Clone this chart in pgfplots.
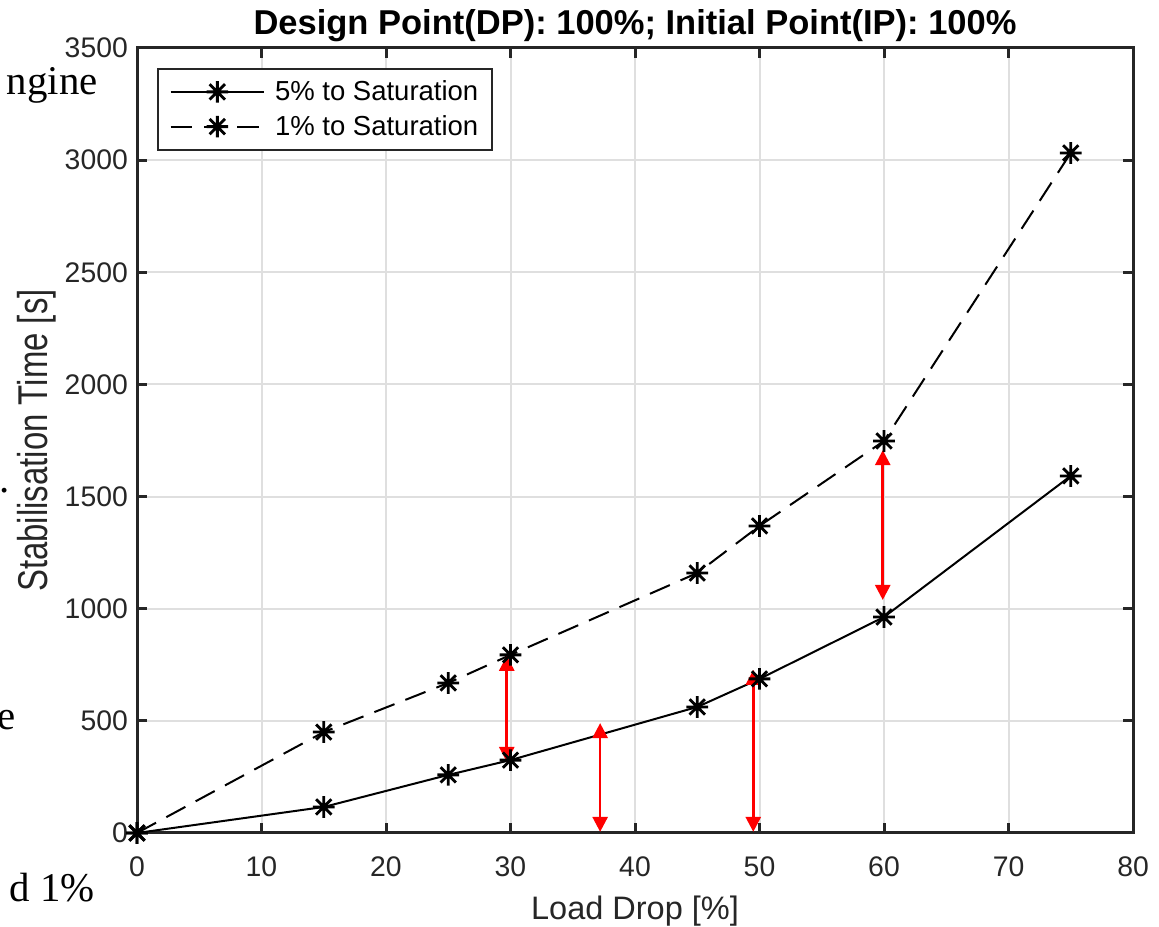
\documentclass[border=0pt]{standalone}
\usepackage{pgfplots}
\pgfplotsset{compat=1.18}
\usepackage{fontspec}
\setmainfont{Liberation Sans}
\newfontfamily\docserif{Liberation Serif}
\usetikzlibrary{arrows.meta}
\definecolor{axgray}{HTML}{262626}
\definecolor{gridgray}{HTML}{DFDFDF}

% MATLAB-style '*' marker: plus and cross overlaid
\pgfdeclareplotmark{mstar}{%
  \pgfpathmoveto{\pgfqpoint{-\pgfplotmarksize}{0pt}}\pgfpathlineto{\pgfqpoint{\pgfplotmarksize}{0pt}}%
  \pgfpathmoveto{\pgfqpoint{0pt}{-\pgfplotmarksize}}\pgfpathlineto{\pgfqpoint{0pt}{\pgfplotmarksize}}%
  \pgfpathmoveto{\pgfqpoint{-0.7071\pgfplotmarksize}{-0.7071\pgfplotmarksize}}\pgfpathlineto{\pgfqpoint{0.7071\pgfplotmarksize}{0.7071\pgfplotmarksize}}%
  \pgfpathmoveto{\pgfqpoint{-0.7071\pgfplotmarksize}{0.7071\pgfplotmarksize}}\pgfpathlineto{\pgfqpoint{0.7071\pgfplotmarksize}{-0.7071\pgfplotmarksize}}%
  \pgfusepathqstroke}

\begin{document}
\begin{tikzpicture}
\useasboundingbox (0,0) rectangle (695.4pt,556.2pt);
\begin{axis}[
    at={(82.2pt,56.4pt)}, anchor=south west,
    width=597.6pt, height=471pt, scale only axis,
    xmin=0, xmax=80, ymin=0, ymax=3500,
    xtick={0,10,...,80}, ytick={0,500,...,3500},
    grid=major,
    major grid style={gridgray, line width=1.2pt},
    axis line style={axgray, line width=1.8pt},
    tick style={axgray, line width=1.8pt},
    major tick length=6pt,
    tick align=inside,
    tick label style={font=\fontsize{17}{20}\selectfont, text=axgray},
    xticklabel style={yshift=-10.5pt},
    yticklabel style={xshift=-2pt},
    /pgf/number format/assume math mode=true,
    /pgf/number format/1000 sep={},
    scaled ticks=false,
    clip=false,
    title={Design Point(DP): 100\%; Initial Point(IP): 100\%},
    title style={at={([yshift=7.5pt]rel axis cs:0.5,1)}, anchor=center, font=\bfseries\fontsize{20.7}{24}\selectfont},
    xlabel={Load Drop [\%]},
    xlabel style={at={([yshift=-47pt]rel axis cs:0.5,0)}, anchor=center, font=\fontsize{19.5}{22}\selectfont, text=axgray},
    ylabel={\scalebox{0.79}[1]{Stabilisation Time [s]}},
    ylabel style={at={([xshift=-60pt]rel axis cs:0,0.5)}, anchor=center, font=\fontsize{25}{28}\selectfont, text=axgray},
    legend style={at={(rel axis cs:0,1)}, anchor=north west, xshift=12pt, yshift=-12pt,
        draw=axgray, line width=1.2pt, fill=white,
        font=\fontsize{16.5}{19}\selectfont, text=black,
        nodes={inner sep=1pt}, inner xsep=7pt, inner ysep=6pt, row sep=5.4pt,
        /tikz/every odd column/.append style={column sep=5pt}},
    legend cell align=left,
    legend image code/.code={\draw[mark repeat=2,mark phase=2,#1] plot coordinates {(0pt,0pt) (28pt,0pt) (56pt,0pt)};},
]
\addplot[black, line width=1.2pt, mark=mstar, mark size=6.5pt, mark options={solid, line width=1.7pt}]
    coordinates {(0,0) (15,116) (25,259) (30,325) (45,562) (50,687) (60,963) (75,1592)};
\addlegendentry{5\% to Saturation}
\addplot[black, line width=1.2pt, dash pattern=on 13pt off 7pt, mark=mstar, mark size=6.5pt, mark options={solid, line width=1.7pt}]
    coordinates {(0,0) (15,450) (25,669) (30,794) (45,1159) (50,1369) (60,1748) (75,3032)};
\addlegendentry{1\% to Saturation}

% red double arrows
\addplot[red, line width=1.6pt, {Triangle[width=9pt,length=9pt]}-{Triangle[width=9pt,length=9pt]}, forget plot]
    coordinates {(29.7,317) (29.7,790)};
\addplot[red, line width=1.6pt, {Triangle[width=9pt,length=9pt]}-{Triangle[width=9pt,length=9pt]}, forget plot]
    coordinates {(37.2,5) (37.2,490)};
\addplot[red, line width=1.6pt, {Triangle[width=9pt,length=9pt]}-{Triangle[width=9pt,length=9pt]}, forget plot]
    coordinates {(49.5,5) (49.5,727)};
\addplot[red, line width=1.6pt, {Triangle[width=9pt,length=9pt]}-{Triangle[width=9pt,length=9pt]}, forget plot]
    coordinates {(59.9,1039) (59.9,1707)};
\end{axis}

% fragments of the surrounding page text
\begin{scope}[every node/.style={font=\docserif\fontsize{24.5}{27}\selectfont, inner sep=0pt}]
\node[anchor=base east] at (58.8pt,499.2pt) {ngine};
\node[anchor=base east] at (6pt,260.4pt) {.};
\node[anchor=base east] at (9.6pt,118.2pt) {e};
\node[anchor=base east] at (57pt,15pt) {d 1\%};
\end{scope}
\end{tikzpicture}
\end{document}
